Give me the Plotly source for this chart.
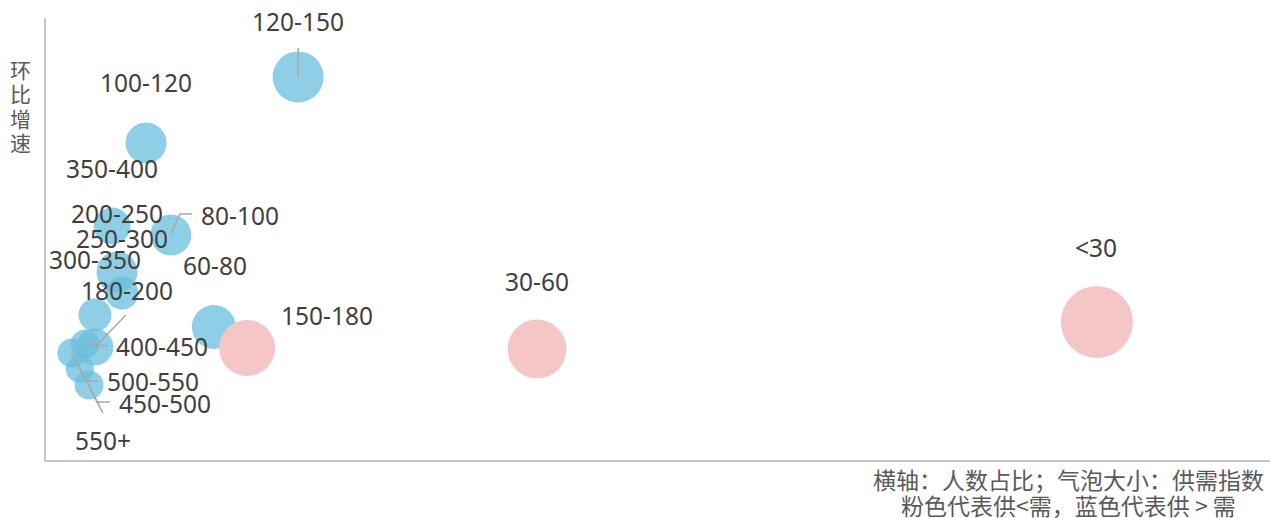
import plotly.graph_objects as go

# ---------------- data ----------------
categories = ["<30", "30-60", "60-80", "80-100", "100-120", "120-150", "150-180",
              "180-200", "200-250", "250-300", "300-350", "350-400", "400-450",
              "450-500", "500-550", "550+"]
share_pct = [30.05, 14.04, 4.80, 3.57, 2.86, 7.21, 5.75,
             1.40, 2.03, 2.17, 1.40, 1.89, 1.12,
             1.23, 0.97, 0.74]          # 横轴：人数占比
mom_growth = [4.37, 2.53, 4.03, 10.27, 16.52, 21.0, 2.60,
              2.67, 7.76, 6.33, 4.84, 10.88, 2.87,
              0.09, 1.18, 2.26]         # 纵轴：环比增速
supply_index = [7.2, 5.9, 4.4, 4.1, 4.1, 5.1, 5.6,
                3.7, 4.1, 3.3, 3.3, 3.7, 2.9,
                2.9, 2.8, 2.9]          # 气泡大小：供需指数
relation = ["供<需", "供<需", "供>需", "供>需", "供>需", "供>需", "供<需",
            "供>需", "供>需", "供>需", "供>需", "供>需", "供>需",
            "供>需", "供>需", "供>需"]
y_title_chars = ["环", "比", "增", "速"]
notes = ["横轴：人数占比；气泡大小：供需指数", "粉色代表供&lt;需，蓝色代表供 &gt; 需"]

# ---------------- styling (label placement in pixels) ----------------
BLUE = "rgb(106,191,222)"
PINK = "rgb(245,198,200)"
LABEL_FONT = dict(family="Noto Sans, Noto Sans CJK SC", size=24.5, color="#404040")

# (dx, dy_down, anchor)
label_pos = {
    "<30": (-1, -74, "center"), "30-60": (0, -68, "center"), "60-80": (1, -61, "center"),
    "80-100": (28, -20, "left"), "100-120": (0, -60, "center"), "120-150": (0, -55, "center"),
    "150-180": (32, -33, "left"), "180-200": (32, -57, "center"), "200-250": (0, -59, "center"),
    "250-300": (0, -55, "center"), "300-350": (0, -56, "center"), "350-400": (0, -58, "center"),
    "400-450": (29, 2, "left"), "450-500": (28, 18, "left"), "500-550": (25, 13, "left"),
    "550+": (31, 87, "center"),
}
# leader line polylines, screen px relative to bubble centre (down positive)
leaders = {
    "120-150": [(0, 0), (0, -29)],
    "80-100": [(0, -1), (9, -21), (21, -21)],
    "180-200": [(0, 0), (31, -32)],
    "400-450": [(0, 0), (23, 2)],
    "550+": [(0, 0), (31, 60)],
    "500-550": [(0, 0), (6, 12), (18, 12)],
    "450-500": [(0, 0), (8, 17), (21, 17)],
}

fig = go.Figure()
for rel, col, op in [("供>需", BLUE, 0.75), ("供<需", PINK, 1.0)]:
    idx = [i for i, r in enumerate(relation) if r == rel]
    fig.add_trace(go.Scatter(
        x=[share_pct[i] for i in idx],
        y=[mom_growth[i] for i in idx],
        text=[categories[i] for i in idx],
        mode="markers",
        marker=dict(size=[supply_index[i] for i in idx], sizemode="diameter", sizeref=0.1,
                    color=col, opacity=op, line=dict(width=0)),
        hoverinfo="text", showlegend=False,
    ))

annotations = []
shapes = []
for i, c in enumerate(categories):
    dx, dy, anc = label_pos[c]
    annotations.append(dict(x=share_pct[i], y=mom_growth[i], xref="x", yref="y",
                            text=c, showarrow=False, xshift=dx, yshift=-dy,
                            xanchor=anc, yanchor="middle", font=LABEL_FONT))
    if c in leaders:
        pts = leaders[c]
        path = "M" + " L".join(f"{px},{-py}" for px, py in pts)
        shapes.append(dict(type="path", xref="x", yref="y", xsizemode="pixel", ysizemode="pixel",
                           xanchor=share_pct[i], yanchor=mom_growth[i], path=path,
                           line=dict(color="#a8a8a8", width=1.5), layer="above"))

# y-axis title (vertical, one character per line)
PLOT_H = 442.0
for k, ch in enumerate(y_title_chars):
    ypix = 69 + 24.3 * k            # centre in page pixels
    annotations.append(dict(x=-0.0212, y=(460 - ypix) / PLOT_H, xref="paper", yref="paper",
                            text=ch, showarrow=False, xanchor="center", yanchor="middle",
                            font=dict(family="Noto Sans CJK SC", size=21, color="#595959")))
# bottom-right notes
for k, t in enumerate(notes):
    ypix = 479 + 26 * k
    annotations.append(dict(x=(1068 - 46) / 1224.0, y=(460 - ypix) / PLOT_H, xref="paper", yref="paper",
                            text=t, showarrow=False, xanchor="center", yanchor="middle",
                            font=dict(family="Noto Sans CJK SC", size=23, color="#5a5a5a")))

fig.update_layout(
    width=1270, height=518,
    margin=dict(l=46, r=0, t=18, b=58),
    paper_bgcolor="white", plot_bgcolor="white",
    xaxis=dict(range=[0, 35], showgrid=False, zeroline=False, showticklabels=False, ticks="",
               showline=True, linecolor="#c8c8c8", linewidth=1.5),
    yaxis=dict(range=[-5, 25], showgrid=False, zeroline=False, showticklabels=False, ticks="",
               showline=True, linecolor="#c8c8c8", linewidth=1.5),
    annotations=annotations, shapes=shapes,
)

fig.write_html("out.html", config={"displayModeBar": False},
               post_script="document.body.style.margin='0';document.body.style.overflow='hidden';")
